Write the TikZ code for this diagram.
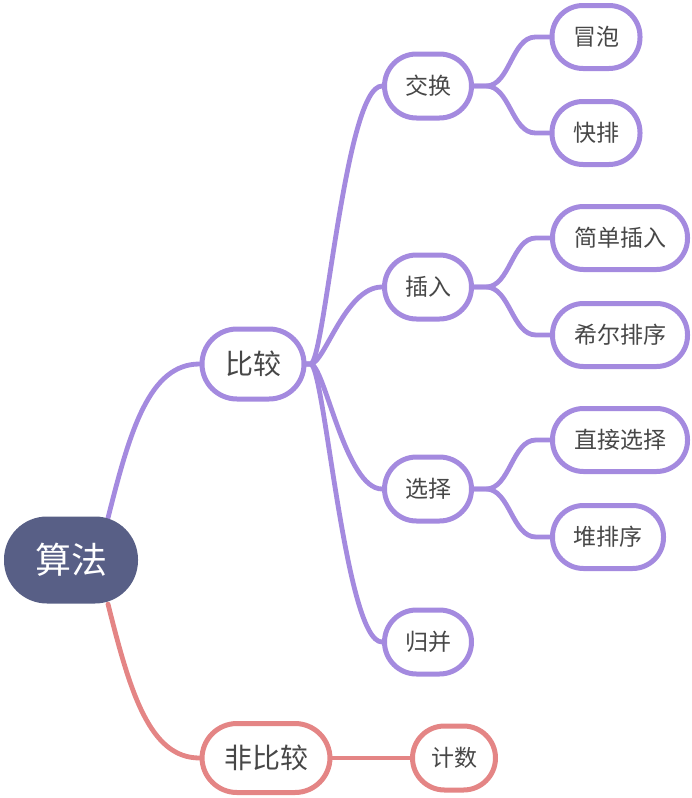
\documentclass[tikz,border=0pt]{standalone}
\usepackage{fontspec}
\setmainfont{Noto Sans CJK SC}
\usetikzlibrary{calc,backgrounds}
\definecolor{purp}{HTML}{A48ADF}
\definecolor{pinkred}{HTML}{E48585}
\definecolor{rootfill}{HTML}{585F86}
\definecolor{txt}{HTML}{474747}
\tikzset{
  topicbox/.style={draw=#1, line width=5pt, fill=white, inner sep=0pt, text=txt},
  leafbox/.style={topicbox=purp, minimum height=63pt, rounded corners=31pt, font=\fontsize{23}{24}\selectfont},
  midbox/.style={topicbox=purp, minimum width=87pt, minimum height=64pt, rounded corners=32pt, font=\fontsize{23}{24}\selectfont},
  bigbox/.style={topicbox=#1, minimum height=70pt, rounded corners=35pt, font=\fontsize{28}{30}\selectfont},
  conn/.style={draw=#1, line width=4.8pt, line cap=round},
}
\begin{document}
\begin{tikzpicture}[x=1pt,y=-1pt]
\useasboundingbox (0,0) rectangle (692,798);
% nodes
\node[fill=rootfill, minimum width=134pt, minimum height=87pt, rounded corners=43pt, inner sep=0pt, text=white, font=\fontsize{36}{38}\selectfont] (root) at (71,560) {算法};
\node[bigbox=purp, minimum width=102pt] (bj) at (253,364) {比较};
\node[bigbox=pinkred, minimum width=128pt, minimum height=69pt] (fbj) at (266,758) {非比较};
\node[topicbox=pinkred, minimum width=83pt, minimum height=64pt, rounded corners=32pt, font=\fontsize{23}{24}\selectfont] (js) at (454,758) {计数};
\node[midbox] (jh) at (428,86) {交换};
\node[midbox] (cr) at (428,287) {插入};
\node[midbox] (xz) at (428,489) {选择};
\node[midbox] (gb) at (428,642) {归并};
\node[leafbox, minimum width=88pt] (mp) at (596,37) {冒泡};
\node[leafbox, minimum width=88pt] (kp) at (596,133) {快排};
\node[leafbox, minimum width=135pt] (jdcr) at (620,238) {简单插入};
\node[leafbox, minimum width=135pt] (xepx) at (620,335) {希尔排序};
\node[leafbox, minimum width=135pt] (zjxz) at (620,440) {直接选择};
\node[leafbox, minimum width=111pt] (dpx) at (608,537) {堆排序};
% connectors
\coordinate (rtop) at ($(root.center)+(37,-42)$);
\coordinate (rbot) at ($(root.center)+(37,44)$);
\begin{scope}[on background layer]
\path[conn=purp] (rtop) .. controls +(22,-88) and +(-50,0) .. (bj.west);
\path[conn=pinkred] (rbot) .. controls +(22,88) and +(-50,0) .. (fbj.west);
\path[conn=pinkred] (fbj.east) -- (js.west);
\foreach \c in {jh,cr,xz,gb}{
  \path[conn=purp] (bj.east) -- ++(4,0) .. controls +(14,0) and +(-37,0) .. (\c.west);
}
\foreach \p/\c in {jh/mp,jh/kp,cr/jdcr,cr/xepx,xz/zjxz,xz/dpx}{
  \path[conn=purp] (\p.east) -- ++(12,0) .. controls +(24,0) and +(-24,0) .. ($(\c.west)+(-14,0)$) -- (\c.west);
}
\end{scope}
\end{tikzpicture}
\end{document}
